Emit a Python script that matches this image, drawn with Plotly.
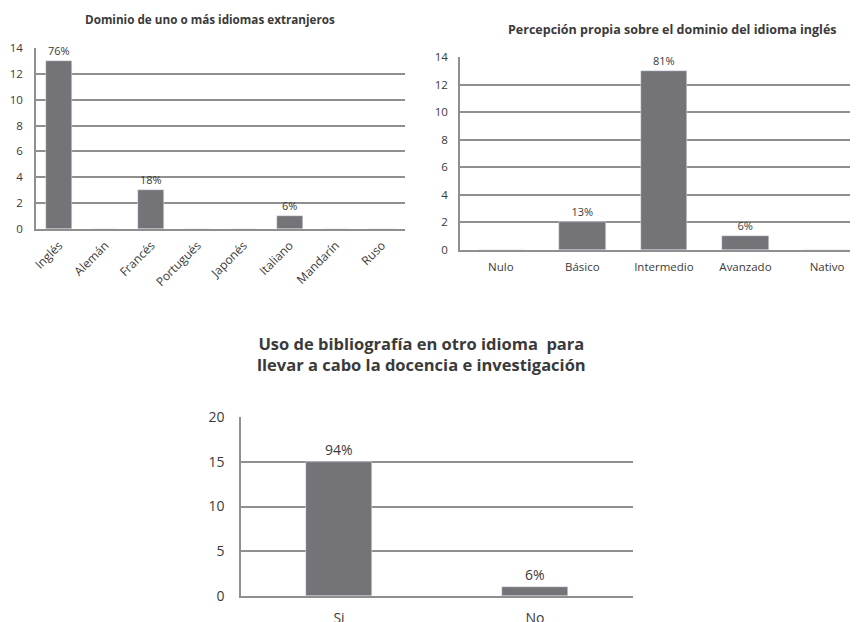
import plotly.graph_objects as go

# Datos
idiomas = ['Inglés', 'Alemán', 'Francés', 'Portugués', 'Japonés', 'Italiano', 'Mandarín', 'Ruso']
idiomas_n = [13, 0, 3, 0, 0, 1, 0, 0]
idiomas_pct = ['76%', '', '18%', '', '', '6%', '', '']

niveles = ['Nulo', 'Básico', 'Intermedio', 'Avanzado', 'Nativo']
niveles_n = [0, 2, 13, 1, 0]
niveles_pct = ['', '13%', '81%', '6%', '']

biblio = ['Si', 'No']
biblio_n = [15, 1]
biblio_pct = ['94%', '6%']

# la página deja 8px de margen en el body
OFF = 8
W, H = 858 - OFF, 622 - OFF
BAR = '#737378'
GRID = '#8f8f8f'
TXT = '#3a3a3a'
FONT = 'Open Sans'

def px_x(p):
    return (p - OFF) / W

def px_y(p):
    return 1 - (p - OFF) / H

fig = go.Figure()

fig.add_trace(go.Bar(x=idiomas, y=idiomas_n, text=idiomas_pct, textposition='outside',
                     textfont=dict(size=11, color=TXT, family=FONT), cliponaxis=False,
                     marker=dict(color=BAR), width=0.56, xaxis='x', yaxis='y', showlegend=False))
fig.add_trace(go.Bar(x=niveles, y=niveles_n, text=niveles_pct, textposition='outside',
                     textfont=dict(size=11, color=TXT, family=FONT), cliponaxis=False,
                     marker=dict(color=BAR), width=0.57, xaxis='x2', yaxis='y2', showlegend=False))
fig.add_trace(go.Bar(x=biblio, y=biblio_n, text=biblio_pct, textposition='outside',
                     textfont=dict(size=14, color=TXT, family=FONT), cliponaxis=False,
                     marker=dict(color=BAR), width=0.34, xaxis='x3', yaxis='y3', showlegend=False))

xcommon = dict(showgrid=False, showline=True, linecolor=GRID, linewidth=1.5, ticks='',
               fixedrange=True, type='category', automargin=False)
ycommon = dict(showgrid=True, gridcolor=GRID, gridwidth=1.5, showline=True, linecolor=GRID,
               linewidth=1.5, zeroline=False, ticks='', fixedrange=True, automargin=False)

fig.update_layout(
    width=W, height=H,
    margin=dict(l=0, r=0, t=0, b=0, autoexpand=False),
    paper_bgcolor='white', plot_bgcolor='white',
    bargap=0,
    font=dict(family=FONT, color=TXT),
    xaxis=dict(xcommon, domain=[px_x(36), px_x(405)], anchor='y', range=[-0.5, 7.5],
               tickangle=-45, tickfont=dict(size=12, color=TXT), ticklabelstandoff=3),
    yaxis=dict(ycommon, domain=[px_y(229), px_y(48)], anchor='x', range=[0, 14], dtick=2,
               tickfont=dict(size=11.5, color=TXT), ticklabelstandoff=9),
    xaxis2=dict(xcommon, domain=[px_x(460), 1.0], anchor='y2', range=[-0.5, 4.38],
                tickfont=dict(size=11.5, color=TXT), ticklabelstandoff=5),
    yaxis2=dict(ycommon, domain=[px_y(250), px_y(57)], anchor='x2', range=[0, 14], dtick=2,
                tickfont=dict(size=11.5, color=TXT), ticklabelstandoff=8),
    xaxis3=dict(xcommon, domain=[px_x(241), px_x(633)], anchor='y3', range=[-0.5, 1.5],
                tickfont=dict(size=14, color=TXT), ticklabelstandoff=8),
    yaxis3=dict(ycommon, domain=[px_y(596), px_y(417)], anchor='x3', range=[0, 20], dtick=5,
                tickfont=dict(size=14, color=TXT), ticklabelstandoff=12),
    annotations=[
        dict(text='<b>Dominio de uno o más idiomas extranjeros</b>', x=px_x(210), y=px_y(19),
             xref='paper', yref='paper', xanchor='center', yanchor='middle', showarrow=False,
             font=dict(size=11.7, color=TXT)),
        dict(text='<b>Percepción propia sobre el dominio del idioma inglés</b>', x=px_x(672),
             y=px_y(29), xref='paper', yref='paper', xanchor='center', yanchor='middle',
             showarrow=False, font=dict(size=12.5, color=TXT)),
        dict(text='<b>Uso de bibliografía en otro idioma  para<br>llevar a cabo la docencia e investigación</b>',
             x=px_x(421), y=px_y(354), xref='paper', yref='paper', xanchor='center', yanchor='middle',
             showarrow=False, font=dict(size=16.5, color=TXT)),
    ],
)

fig.write_html('out.html')
